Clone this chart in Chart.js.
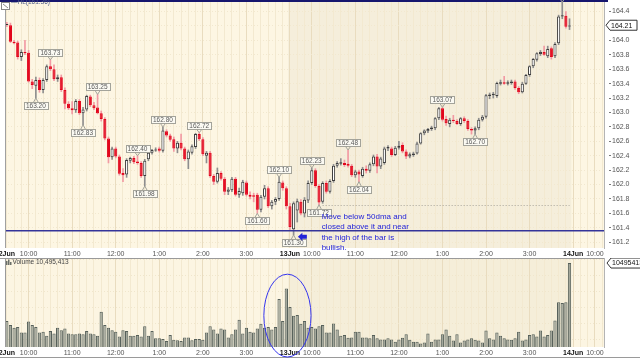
<!DOCTYPE html>
<html>
<head>
<meta charset="utf-8">
<script src="https://cdn.jsdelivr.net/npm/chart.js@4.4.1/dist/chart.umd.min.js"></script>
<style>
  html, body { margin: 0; padding: 0; background: #fff; }
  #wrap { position: relative; width: 640px; height: 360px; overflow: hidden; }
  #priceWrap { position: absolute; left: 0; top: 0; width: 640px; height: 258px; }
  #volWrap { position: absolute; left: 0; top: 258px; width: 640px; height: 102px; }
</style>
</head>
<body>
<div id="wrap">
  <div id="priceWrap"><canvas id="priceChart"></canvas></div>
  <div id="volWrap"><canvas id="volChart"></canvas></div>
</div>
<script>
// 5-minute bars, 2 Jun (i0-77) and 13 Jun (i78-155)
const opens = [
  164.22,164.21,163.98,163.97,163.77,163.84,163.83,163.43,163.37,163.45,
  163.31,163.45,163.64,163.60,163.46,163.49,163.31,163.12,163.06,163.03,
  163.16,162.99,163.04,163.22,163.10,163.07,162.99,162.91,162.64,162.38,
  162.50,162.39,162.16,162.14,162.33,162.37,162.32,162.30,162.12,162.35,
  162.44,162.48,162.50,162.47,162.74,162.68,162.63,162.50,162.58,162.50,
  162.35,162.44,162.52,162.70,162.63,162.40,162.44,162.12,162.04,162.16,
  162.08,161.90,161.92,162.08,161.86,161.88,162.03,161.86,161.85,161.86,
  161.65,161.83,161.95,161.70,161.76,161.80,162.03,161.95,
  161.70,161.38,161.64,161.76,161.60,161.78,162.02,162.20,161.98,161.76,
  162.02,161.90,162.05,162.26,162.29,162.30,162.29,162.26,162.13,162.18,
  162.12,162.22,162.19,162.28,162.39,162.25,162.30,162.50,162.50,162.41,
  162.51,162.55,162.46,162.39,162.41,162.43,162.57,162.71,162.74,162.77,
  162.78,162.92,163.06,162.91,162.84,162.90,162.88,162.84,162.92,162.88,
  162.77,162.75,162.78,162.90,162.94,163.23,163.24,163.23,163.40,163.42,
  163.40,163.41,163.43,163.34,163.28,163.40,163.52,163.64,163.73,163.81,
  163.84,163.78,163.89,163.78,163.96,164.33,164.34,164.20
];
const highs = [
  164.25,164.24,164.00,163.99,163.87,164.00,163.86,163.46,163.49,163.48,
  163.47,163.66,163.73,163.66,163.52,163.52,163.34,163.15,163.15,163.18,
  163.18,163.07,163.24,163.24,163.14,163.25,163.02,162.93,162.66,162.52,
  162.52,162.41,162.22,162.36,162.38,162.39,162.40,162.32,162.35,162.45,
  162.49,162.51,162.52,162.80,162.76,162.70,162.66,162.60,162.70,162.52,
  162.48,162.55,162.71,162.72,162.65,162.46,162.46,162.14,162.23,162.18,
  162.10,161.96,162.10,162.10,161.95,162.06,162.05,161.90,161.88,161.88,
  161.85,161.99,161.97,161.78,161.82,162.10,162.05,161.97,
  161.74,161.76,161.80,161.79,161.82,162.05,162.23,162.22,162.00,162.04,
  162.05,162.07,162.28,162.32,162.36,162.34,162.48,162.28,162.20,162.20,
  162.24,162.26,162.30,162.41,162.42,162.38,162.52,162.54,162.52,162.53,
  162.60,162.58,162.48,162.44,162.45,162.59,162.72,162.76,162.78,162.81,
  162.93,163.07,163.07,162.95,162.92,162.96,162.90,162.93,162.94,162.90,
  162.79,162.80,162.92,162.96,163.25,163.27,163.28,163.42,163.45,163.50,
  163.44,163.45,163.45,163.36,163.42,163.53,163.65,163.75,163.83,163.86,
  163.92,163.92,163.91,163.97,164.35,164.53,164.40,164.30
];
const lows = [
  164.19,163.97,163.95,163.74,163.72,163.80,163.42,163.33,163.20,163.28,
  163.27,163.43,163.58,163.44,163.43,163.29,163.05,163.04,162.98,163.00,
  162.97,162.83,163.02,163.08,163.04,162.98,162.88,162.62,162.30,162.35,
  162.37,162.13,162.04,162.10,162.30,162.29,162.28,162.10,161.98,162.33,
  162.42,162.46,162.45,162.45,162.66,162.60,162.46,162.44,162.48,162.33,
  162.22,162.42,162.50,162.61,162.40,162.30,162.10,162.00,162.02,162.06,
  161.86,161.86,161.90,161.84,161.82,161.85,161.84,161.80,161.76,161.60,
  161.62,161.80,161.68,161.66,161.72,161.78,161.92,161.66,
  161.36,161.30,161.48,161.58,161.55,161.75,162.00,161.96,161.72,161.74,
  161.88,161.88,162.03,162.24,162.27,162.25,162.24,162.11,162.10,162.04,
  162.10,162.16,162.17,162.26,162.16,162.22,162.28,162.47,162.39,162.40,
  162.49,162.44,162.36,162.37,162.39,162.42,162.56,162.69,162.72,162.75,
  162.76,162.90,162.88,162.82,162.80,162.86,162.83,162.82,162.86,162.75,
  162.70,162.70,162.76,162.88,162.92,163.19,163.20,163.21,163.38,163.39,
  163.38,163.39,163.32,163.26,163.27,163.39,163.50,163.62,163.71,163.79,
  163.79,163.76,163.74,163.76,163.94,164.30,164.17,164.15
];
const closes = [
  164.21,163.98,163.96,163.77,163.84,163.82,163.43,163.38,163.45,163.31,
  163.45,163.64,163.60,163.46,163.49,163.31,163.12,163.06,163.03,163.16,
  162.99,163.04,163.23,163.10,163.06,162.99,162.91,162.64,162.38,162.50,
  162.39,162.15,162.13,162.34,162.37,162.31,162.30,162.12,162.33,162.44,
  162.48,162.49,162.47,162.75,162.68,162.62,162.50,162.58,162.50,162.35,
  162.46,162.53,162.70,162.63,162.42,162.44,162.12,162.04,162.16,162.08,
  161.90,161.93,162.08,161.86,161.91,162.04,161.86,161.83,161.83,161.65,
  161.83,161.95,161.70,161.76,161.80,162.04,161.95,161.70,
  161.41,161.74,161.77,161.60,161.79,162.02,162.20,161.98,161.75,162.02,
  161.90,162.05,162.26,162.30,162.31,162.27,162.26,162.13,162.18,162.14,
  162.22,162.19,162.28,162.39,162.25,162.36,162.50,162.52,162.41,162.51,
  162.54,162.46,162.39,162.42,162.43,162.57,162.71,162.75,162.77,162.79,
  162.92,163.06,162.90,162.85,162.90,162.88,162.84,162.92,162.88,162.77,
  162.75,162.78,162.90,162.94,163.24,163.25,163.26,163.41,163.42,163.40,
  163.42,163.43,163.34,163.28,163.40,163.52,163.64,163.74,163.82,163.84,
  163.80,163.88,163.77,163.95,164.33,164.35,164.19,164.21
];
// volume, millions
const volumes = [
  3.25,2.75,2.4,2.5,1.8,1.8,3.2,2.75,2.5,1.8,
  1.9,1.4,2.0,1.7,2.4,2.1,2.3,1.7,1.6,1.6,
  1.7,1.6,2.0,1.7,1.6,1.4,4.4,2.75,2.4,2.1,
  1.9,1.3,2.1,2.0,1.4,1.4,1.5,1.3,2.6,1.4,
  2.0,1.1,1.1,1.0,0.75,1.5,0.9,0.85,0.75,1.2,
  1.2,0.85,1.0,1.0,0.9,1.8,2.6,2.2,1.7,2.3,
  2.2,1.2,1.6,2.2,3.4,1.7,2.4,1.9,1.8,2.3,
  2.9,2.4,2.5,2.2,2.5,6.0,3.25,7.3,
  5.0,3.9,4.0,2.9,3.25,2.4,2.5,2.3,2.6,2.75,
  1.8,1.8,2.95,2.2,1.4,1.5,1.15,1.2,1.9,1.9,
  1.2,1.2,1.1,1.5,1.1,0.95,0.95,1.1,0.95,0.65,
  0.95,1.15,1.6,0.9,0.65,0.65,0.45,0.55,1.7,0.65,
  0.95,0.95,1.6,2.2,1.4,0.8,1.6,0.55,0.8,0.95,
  1.1,0.9,0.8,0.55,2.05,1.1,0.95,1.8,1.4,1.1,
  0.95,0.9,1.1,1.9,0.8,0.95,1.5,1.6,1.3,2.05,
  1.3,1.5,2.05,3.3,5.6,5.5,5.6,10.495413
];

const slotCount = 165;
const timeTickIdx = [0, 6, 18, 30, 42, 54, 66, 78, 84, 96, 108, 120, 132, 144, 156, 162];
const timeTickText = ["2Jun", "10:00", "11:00", "12:00", "1:00", "2:00", "3:00", "13Jun",
  "10:00", "11:00", "12:00", "1:00", "2:00", "3:00", "14Jun", "10:00"];
const dayTickIdx = [0, 78, 156];
const priceTicks = [161.2, 161.4, 161.6, 161.8, 162.0, 162.2, 162.4, 162.6, 162.8, 163.0, 163.2, 163.4, 163.6, 163.8, 164.0, 164.2, 164.4];
const volTicks = [2, 4, 6, 8, 10];

const hlLevel = 161.36;
const highTags = [[12, "163.73"], [25, "163.25"], [43, "162.80"], [53, "162.72"], [36, "162.40"],
  [75, "162.10"], [84, "162.23"], [94, "162.48"], [120, "163.07"], [153, "164.53"]];
const lowTags = [[8, "163.20"], [21, "162.83"], [38, "161.98"], [69, "161.60"], [79, "161.30"],
  [86, "161.72"], [97, "162.04"], [129, "162.70"]];
const noteLines = ["Move below 50dma and", "closed above it and near", "the high of the bar is", "bullish."];

const fontFamily = '"Liberation Sans", Arial, sans-serif';
const smallFont = `6.5px ${fontFamily}`;
const slots = Array.from({ length: slotCount }, (_, i) => i);
const lastIdx = closes.length - 1;

const isUp = (i) => closes[i] >= opens[i];
const tickText = (i) => {
  const k = timeTickIdx.indexOf(i);
  return k >= 0 ? timeTickText[k] : "";
};

function xGridColor(ctx) {
  const i = ctx.index;
  if (timeTickIdx.includes(i) && i !== 0) return "#e9dcbf";
  return i % 2 === 0 ? "#f3e9d0" : "rgba(0,0,0,0)";
}

const xAxis = (axisHeight) => ({
  type: "category",
  offset: true,
  grid: { offset: false, color: xGridColor, drawTicks: false },
  border: { display: false },
  ticks: {
    autoSkip: false,
    maxRotation: 0,
    minRotation: 0,
    padding: 2,
    callback: (value, index) => tickText(index),
    font: (ctx) => ({ family: fontFamily, size: 7, weight: dayTickIdx.includes(ctx.index) ? "bold" : "normal" }),
    color: (ctx) => (dayTickIdx.includes(ctx.index) ? "#111" : "#555")
  },
  afterFit: (scale) => {
    scale.height = axisHeight;
    scale.paddingLeft = 0;
    scale.paddingRight = 0;
  }
});

function shadeDays(chart, lightColor, darkColor) {
  const { ctx, chartArea: a, scales: { x } } = chart;
  const step = x.getPixelForValue(1) - x.getPixelForValue(0);
  const d2Start = x.getPixelForValue(78) - step / 2;
  const d2End = x.getPixelForValue(lastIdx) + step / 2;
  ctx.save();
  ctx.fillStyle = lightColor;
  ctx.fillRect(a.left, a.top, a.width, a.height);
  ctx.fillStyle = darkColor;
  ctx.fillRect(d2Start, a.top, d2End - d2Start, a.height);
  ctx.restore();
}

function drawTag(ctx, cx, py, text, above) {
  ctx.save();
  ctx.font = smallFont;
  const w = Math.round(ctx.measureText(text).width) + 4;
  const h = 7;
  const left = Math.round(cx - w / 2) + 0.5;
  const top = above ? Math.round(py - 4 - h) + 0.5 : Math.round(py + 4) + 0.5;
  const edge = above ? top + h : top;
  ctx.lineWidth = 1;
  ctx.strokeStyle = "#a3a39a";
  ctx.fillStyle = "#fbfaf3";
  ctx.beginPath();
  ctx.moveTo(cx - 2.5, edge);
  ctx.lineTo(cx, py);
  ctx.lineTo(cx + 2.5, edge);
  ctx.stroke();
  ctx.fillRect(left, top, w, h);
  ctx.strokeRect(left, top, w, h);
  ctx.fillStyle = "#5a5a5a";
  ctx.textAlign = "center";
  ctx.textBaseline = "middle";
  ctx.fillText(text, cx, top + h / 2 + 0.5);
  ctx.restore();
}

function drawValueBox(ctx, x0, yc, text, width) {
  ctx.save();
  ctx.beginPath();
  ctx.moveTo(x0, yc);
  ctx.lineTo(x0 + 4, yc - 5);
  ctx.lineTo(x0 + width, yc - 5);
  ctx.lineTo(x0 + width, yc + 5);
  ctx.lineTo(x0 + 4, yc + 5);
  ctx.closePath();
  ctx.fillStyle = "#ffffff";
  ctx.fill();
  ctx.strokeStyle = "#333";
  ctx.lineWidth = 1;
  ctx.stroke();
  ctx.fillStyle = "#111";
  ctx.font = `7px ${fontFamily}`;
  ctx.textBaseline = "middle";
  ctx.fillText(text, x0 + 5, yc + 0.5);
  ctx.restore();
}

const priceDecor = {
  id: "priceDecor",
  beforeDraw: (chart) => shadeDays(chart, "#fdf6e3", "#f5eedb"),
  afterDatasetsDraw: (chart) => {
    const { ctx, chartArea: a, scales: { x, y } } = chart;
    ctx.save();

    // 50dma-break reference line
    const hy = y.getPixelForValue(hlLevel);
    ctx.strokeStyle = "#34349a";
    ctx.lineWidth = 1.6;
    ctx.beginPath();
    ctx.moveTo(a.left, hy);
    ctx.lineTo(a.right, hy);
    ctx.stroke();

    // dotted level from the 161.72 low
    const dy = Math.round(y.getPixelForValue(lows[86])) + 0.5;
    ctx.strokeStyle = "#a8a49a";
    ctx.lineWidth = 1;
    ctx.setLineDash([1, 2]);
    ctx.beginPath();
    ctx.moveTo(x.getPixelForValue(87), dy);
    ctx.lineTo(x.getPixelForValue(lastIdx), dy);
    ctx.stroke();
    ctx.setLineDash([]);

    // left border and top rule
    ctx.strokeStyle = "#a0a0a0";
    ctx.beginPath();
    ctx.moveTo(a.left + 0.5, a.top);
    ctx.lineTo(a.left + 0.5, a.bottom);
    ctx.stroke();
    ctx.strokeStyle = "#16166e";
    ctx.lineWidth = 2;
    ctx.beginPath();
    ctx.moveTo(0, 1);
    ctx.lineTo(a.right + 4, 1);
    ctx.stroke();

    highTags.forEach(([i, t]) => drawTag(ctx, x.getPixelForValue(i), y.getPixelForValue(highs[i]), t, true));
    lowTags.forEach(([i, t]) => drawTag(ctx, x.getPixelForValue(i), y.getPixelForValue(lows[i]), t, false));

    // note and arrow
    const nx = x.getPixelForValue(87) - 1;
    const ny = y.getPixelForValue(161.55);
    ctx.fillStyle = "#2323d8";
    ctx.font = `8px ${fontFamily}`;
    ctx.textBaseline = "middle";
    noteLines.forEach((line, k) => ctx.fillText(line, nx, ny + k * 10.2));

    const ax = x.getPixelForValue(81) - 3;
    const ay = y.getPixelForValue(161.275);
    ctx.beginPath();
    ctx.moveTo(ax, ay);
    ctx.lineTo(ax + 4.5, ay - 4);
    ctx.lineTo(ax + 4.5, ay - 2);
    ctx.lineTo(ax + 9, ay - 2);
    ctx.lineTo(ax + 9, ay + 2);
    ctx.lineTo(ax + 4.5, ay + 2);
    ctx.lineTo(ax + 4.5, ay + 4);
    ctx.closePath();
    ctx.fill();

    // legend stub
    ctx.strokeStyle = "#888";
    ctx.lineWidth = 1;
    ctx.fillStyle = "#fff";
    ctx.fillRect(1.5, 2.5, 8, 7);
    ctx.strokeRect(1.5, 2.5, 8, 7);
    ctx.beginPath();
    ctx.moveTo(3, 4);
    ctx.lineTo(8, 8);
    ctx.stroke();
    ctx.fillStyle = "#4d5b86";
    ctx.font = smallFont;
    ctx.fillText("\u2014HL(161.36)", 11, 2);

    ctx.restore();
    drawValueBox(ctx, a.right + 2, y.getPixelForValue(closes[lastIdx]), closes[lastIdx].toFixed(2), 31);
  }
};

const volDecor = {
  id: "volDecor",
  beforeDraw: (chart) => shadeDays(chart, "#fcf5e2", "#f5eed9"),
  afterDatasetsDraw: (chart) => {
    const { ctx, chartArea: a, scales: { x, y } } = chart;
    ctx.save();
    ctx.strokeStyle = "#9a9a9a";
    ctx.lineWidth = 1;
    ctx.beginPath();
    ctx.moveTo(0, a.top + 0.5);
    ctx.lineTo(a.right, a.top + 0.5);
    ctx.moveTo(a.left + 0.5, a.top);
    ctx.lineTo(a.left + 0.5, a.bottom);
    ctx.moveTo(0, chart.height - 2.5);
    ctx.lineTo(chart.width, chart.height - 2.5);
    ctx.stroke();

    // circled opening-volume spike
    const ex0 = x.getPixelForValue(70.8), ex1 = x.getPixelForValue(83.8);
    const ey0 = y.getPixelForValue(9.1), ey1 = y.getPixelForValue(-1.25);
    ctx.strokeStyle = "#3535ee";
    ctx.beginPath();
    ctx.ellipse((ex0 + ex1) / 2, (ey0 + ey1) / 2, (ex1 - ex0) / 2, (ey1 - ey0) / 2, 0, 0, Math.PI * 2);
    ctx.stroke();

    ctx.fillStyle = "#6a6f68";
    ctx.fillRect(6, 3, 1.5, 4);
    ctx.fillRect(8, 1.5, 1.5, 5.5);
    ctx.fillRect(10, 4, 1.5, 3);
    ctx.fillStyle = "#444";
    ctx.font = smallFont;
    ctx.textBaseline = "middle";
    const lastVol = Math.round(volumes[lastIdx] * 1e6);
    ctx.fillText("Volume " + lastVol.toLocaleString("en-US"), 12.5, 4.5);
    ctx.restore();
    drawValueBox(ctx, a.right + 3, y.getPixelForValue(volumes[lastIdx]), String(lastVol), 40);
  }
};

const commonOpts = {
  responsive: true,
  maintainAspectRatio: false,
  animation: false,
  devicePixelRatio: 1,
  layout: { padding: { left: 5, right: 0, top: 0, bottom: 0 } },
  plugins: { legend: { display: false }, tooltip: { enabled: false } }
};

const bodyRanges = opens.map((o, i) => (Math.abs(closes[i] - o) < 0.012 ? [o - 0.006, o + 0.006] : [o, closes[i]]));
const isDoji = (i) => Math.abs(closes[i] - opens[i]) < 0.012;

new Chart(document.getElementById("priceChart"), {
  type: "bar",
  data: {
    labels: slots,
    datasets: [
      {
        label: "wick",
        data: lows.map((l, i) => [l, highs[i]]),
        backgroundColor: lows.map((l, i) => (isUp(i) ? "#8e8e8e" : "#f29aa3")),
        barThickness: 1,
        grouped: false,
        order: 2
      },
      {
        label: "body",
        data: bodyRanges,
        backgroundColor: opens.map((o, i) => (isDoji(i) ? "#333" : isUp(i) ? "#ffffff" : "#e2061c")),
        borderColor: opens.map((o, i) => (isDoji(i) ? "#333" : isUp(i) ? "#3d3d3d" : "#e2061c")),
        borderWidth: 1,
        borderSkipped: false,
        barPercentage: 0.86,
        categoryPercentage: 1,
        grouped: false,
        order: 1
      }
    ]
  },
  options: {
    ...commonOpts,
    scales: {
      x: xAxis(10),
      y: {
        position: "right",
        min: 161.12,
        max: 164.56,
        afterBuildTicks: (scale) => {
          const all = [];
          priceTicks.forEach((v) => all.push({ value: v }, { value: v + 0.1 }));
          scale.ticks = all;
        },
        grid: {
          color: "#f2e8cf",
          tickLength: 7,
          tickBorderDash: [0, 4, 3, 20],
          tickColor: (ctx) => (priceTicks.some((v) => Math.abs(v - ctx.tick.value) < 1e-6) ? "#777" : "rgba(0,0,0,0)")
        },
        border: { color: "#b4b4b4", dash: [1, 2] },
        ticks: {
          padding: 1,
          color: "#555",
          font: { family: fontFamily, size: 7 },
          callback: (v) => (priceTicks.some((p) => Math.abs(p - v) < 1e-6) ? v.toFixed(1) : "")
        },
        afterFit: (scale) => {
          scale.width = 36;
          scale.paddingTop = 0;
          scale.paddingBottom = 0;
        }
      }
    }
  },
  plugins: [priceDecor]
});

new Chart(document.getElementById("volChart"), {
  type: "bar",
  data: {
    labels: slots,
    datasets: [
      {
        label: "Volume",
        data: volumes,
        backgroundColor: "#a3a79b",
        borderColor: "#56605a",
        borderWidth: 1,
        borderSkipped: "bottom",
        barPercentage: 0.9,
        categoryPercentage: 1
      }
    ]
  },
  options: {
    ...commonOpts,
    scales: {
      x: xAxis(13),
      y: {
        position: "right",
        min: 0,
        max: 11.125,
        afterBuildTicks: (scale) => {
          const all = [];
          volTicks.forEach((v) => all.push({ value: v - 1 }, { value: v }));
          all.push({ value: 11 });
          scale.ticks = all;
        },
        grid: {
          color: "#f0e6cc",
          tickLength: 7,
          tickBorderDash: [0, 4, 3, 20],
          tickColor: (ctx) => (volTicks.includes(ctx.tick.value) ? "#777" : "rgba(0,0,0,0)")
        },
        border: { color: "#b4b4b4", dash: [1, 2] },
        ticks: {
          padding: 1,
          color: "#555",
          font: { family: fontFamily, size: 7 },
          callback: (v) => (volTicks.includes(v) ? v + "M" : "")
        },
        afterFit: (scale) => {
          scale.width = 36;
          scale.paddingTop = 0;
          scale.paddingBottom = 0;
        }
      }
    }
  },
  plugins: [volDecor]
});
</script>
</body>
</html>
